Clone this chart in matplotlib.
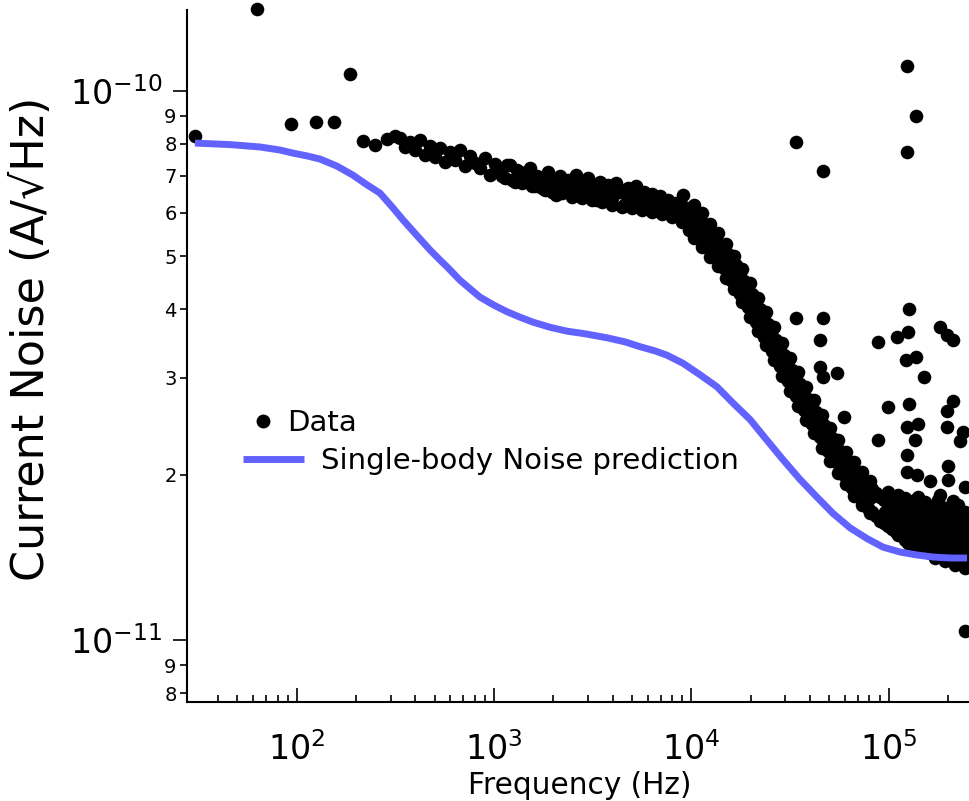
import numpy as np
import matplotlib
matplotlib.use("Agg")
import matplotlib.pyplot as plt
from matplotlib.ticker import FixedLocator, FixedFormatter, NullFormatter
from matplotlib.lines import Line2D

plt.rcParams['font.family'] = ['DejaVu Sans']
plt.rcParams['mathtext.fontset'] = 'dejavusans'

# ---------------- data (noise values in units of 1e-11 A/sqrt(Hz)) ----------------
low_freq = [30.5, 62.9, 93.6, 125.3, 154.6, 186.3, 216.8, 249.4, 287, 315]
low_noise = [8.27, 14.08, 8.70, 8.77, 8.77, 10.72, 8.10, 7.96, 8.17, 8.27]

plateau_freq = [334, 354, 375, 398, 422, 447, 474, 502, 532, 564, 598, 634, 672, 713, 756,
                801, 849, 900, 954, 1011, 1073, 1137, 1205, 1277, 1355, 1436, 1522, 1613,
                1710, 1813, 1870, 1965, 2060, 2160, 2265, 2375, 2490, 2610, 2728, 2860,
                3000, 3140, 3290, 3446, 3610, 3785, 3965, 4155, 4352, 4560, 4780, 5005,
                5245, 5497, 5760, 6035, 6325, 6625, 6943, 7275, 7620, 7985, 8370, 8768,
                9080, 9190, 9630, 9855]
plateau_noise = [8.20, 7.90, 8.07, 7.80, 8.13, 7.64, 7.93, 7.57, 7.87, 7.42, 7.74, 7.48, 7.80,
                 7.29, 7.61, 7.39, 7.23, 7.54, 7.02, 7.35, 7.17, 6.94, 7.32, 6.82, 7.11, 6.99,
                 7.23, 6.71, 6.94, 6.60, 7.11, 6.82, 6.46, 6.99, 6.65, 6.88, 6.54, 7.02, 6.74,
                 6.46, 6.94, 6.65, 6.32, 6.82, 6.54, 6.74, 6.38, 6.79, 6.54, 6.19, 6.65, 6.43,
                 6.71, 6.32, 6.54, 6.17, 6.49, 6.27, 6.43, 6.12, 6.32, 6.07, 6.25, 5.96, 6.46,
                 6.14, 5.82, 6.01]
plateau2_freq = [1098, 1164, 1233, 1308, 1387, 1470, 1558, 1651, 1750, 1856, 1967, 2086, 2211,
                 2345, 2485, 2634, 2792, 2961, 3138, 3328, 3527, 3740, 3964, 4202, 4455, 4723,
                 5006, 5308, 5627, 5966, 6324, 6704, 7107, 7534, 7986, 8467, 8975, 9404, 9740,
                 10447]
plateau2_noise = [6.99, 7.32, 6.88, 7.17, 6.79, 7.05, 6.71, 6.99, 6.65, 6.91, 6.54, 6.82, 6.51,
                  6.76, 6.41, 6.71, 6.38, 6.60, 6.32, 6.65, 6.27, 6.51, 6.19, 6.60, 6.14, 6.43,
                  6.12, 6.35, 6.07, 6.30, 6.01, 6.25, 5.96, 6.17, 5.89, 6.07, 5.77, 5.94, 5.58,
                  5.44]

rolloff_freq = [10080, 10562, 11067, 11596, 12150, 12731, 13339, 13977, 14645, 15345, 16079,
                16847, 17653, 18496, 19380, 20307, 21277, 22294, 23360, 24476, 25646, 26872,
                28156, 29502, 30912, 32389, 33938, 35560, 37259, 39040, 40906, 42861, 44910,
                47056, 49305, 51662, 54131, 56718, 59429, 62269, 65245, 68364, 71631, 75055,
                78642, 82401, 86339, 90466, 94790, 99320, 104067, 109041, 114253]
rolloff_upper = [6.04, 5.86, 5.84, 5.67, 5.62, 5.44, 5.42, 5.24, 5.15, 5.04, 4.92, 4.82, 4.66,
                 4.50, 4.41, 4.27, 4.16, 4.01, 3.91, 3.76, 3.67, 3.52, 3.43, 3.30, 3.22, 3.10,
                 3.02, 2.93, 2.85, 2.75, 2.69, 2.60, 2.53, 2.46, 2.38, 2.33, 2.27, 2.21, 2.16,
                 2.11, 2.07, 2.02, 1.97, 1.95, 1.91, 1.88, 1.85, 1.82, 1.80, 1.78, 1.76, 1.74,
                 1.73]
rolloff_lower = [5.62, 5.46, 5.44, 5.33, 5.17, 5.13, 4.98, 4.92, 4.76, 4.68, 4.50, 4.41, 4.27,
                 4.16, 4.04, 3.91, 3.79, 3.70, 3.56, 3.49, 3.36, 3.28, 3.15, 3.06, 2.96, 2.86,
                 2.78, 2.71, 2.62, 2.56, 2.47, 2.41, 2.34, 2.27, 2.21, 2.15, 2.11, 2.04, 2.00,
                 1.95, 1.89, 1.86, 1.82, 1.78, 1.74, 1.71, 1.68, 1.65, 1.63, 1.61, 1.59, 1.57,
                 1.55]
rolloff_mid_freq = [10318, 11328, 12446, 13654, 14991, 16458, 18070, 19837, 21779, 23911,
                    26251, 28820, 31641, 34739, 38138, 41871, 45970, 50469, 55408, 60831,
                    66785, 73321, 80498]
rolloff_mid_noise = [5.77, 5.56, 5.34, 5.12, 4.89, 4.66, 4.40, 4.15, 3.91, 3.68, 3.45, 3.23,
                     3.04, 2.86, 2.70, 2.54, 2.40, 2.27, 2.15, 2.05, 1.96, 1.88, 1.81]
rolloff_top_noise = [6.19, 5.98, 5.73, 5.50, 5.25, 5.00, 4.73, 4.46, 4.20, 3.95, 3.71, 3.47,
                     3.26, 3.07, 2.89, 2.73, 2.57, 2.43, 2.31, 2.20, 2.11, 2.02, 1.95]
rolloff_bottom_noise = [5.39, 5.20, 4.99, 4.79, 4.57, 4.36, 4.12, 3.88, 3.66, 3.45, 3.23, 3.02,
                        2.84, 2.67, 2.52, 2.38, 2.24, 2.12, 2.01, 1.92, 1.83, 1.76, 1.70]

floor_freq = [95900, 95900, 107780, 107780, 107780, 114253,
              121120, 121120, 121120, 121120,
              128400, 128400, 128400, 128400,
              136120, 136120, 136120, 136120,
              144300, 144300, 144300, 144300,
              152980, 152980, 152980, 152980,
              162170, 162170, 162170, 162170,
              171920, 171920, 171920, 171920, 171920,
              182250, 182250, 182250, 182250,
              193200, 193200, 193200, 193200, 193200,
              204810, 204810, 204810, 204810,
              217120, 217120, 217120, 217120, 217120,
              230170, 230170, 230170, 230170,
              244000, 244000, 244000, 244000, 244000,
              98740, 98740,
              110970, 110970, 110970,
              124700, 124700, 124700, 124700,
              140150, 140150, 140150, 140150, 140150,
              157510, 157510, 157510, 157510,
              177010, 177010, 177010, 177010, 177010,
              198920, 198920, 198920, 198920,
              223550, 223550, 223550, 223550, 223550,
              250000, 250000, 250000, 250000]
floor_noise = [1.81, 1.71, 1.80, 1.69, 1.60, 1.62,
               1.81, 1.71, 1.61, 1.52,
               1.76, 1.67, 1.57, 1.49,
               1.80, 1.69, 1.59, 1.48,
               1.725, 1.64, 1.55, 1.46,
               1.78, 1.67, 1.57, 1.48,
               1.71, 1.61, 1.52, 1.44,
               1.76, 1.65, 1.55, 1.45, 1.41,
               1.69, 1.59, 1.49, 1.42,
               1.74, 1.64, 1.53, 1.45, 1.39,
               1.67, 1.57, 1.48, 1.40,
               1.725, 1.61, 1.52, 1.43, 1.37,
               1.65, 1.555, 1.46, 1.38,
               1.71, 1.60, 1.50, 1.41, 1.35,
               1.86, 1.67,
               1.84, 1.65, 1.555,
               1.76, 1.66, 1.57, 1.50,
               1.82, 1.72, 1.62, 1.52, 1.48,
               1.725, 1.64, 1.53, 1.455,
               1.80, 1.70, 1.60, 1.50, 1.43,
               1.69, 1.59, 1.49, 1.405,
               1.76, 1.65, 1.565, 1.48, 1.38,
               1.65, 1.555, 1.46, 1.37]

outlier_freq = [33938, 46500, 123960, 137650, 123960, 33938, 46500, 44910, 44910, 46500,
                54770, 59430, 88370, 110300, 125400, 126900, 182250, 212000, 197700, 121900,
                137650, 151100, 99320, 126900, 212000, 197700, 88370, 123960, 140900, 136120,
                197700, 238400, 230170, 123960, 200000, 123960, 139300, 162170, 200000,
                244000, 182250, 212000, 244000]
outlier_noise = [8.06, 7.14, 11.09, 8.99, 7.73, 3.86, 3.86, 3.52, 3.14, 3.01,
                 3.06, 2.55, 3.49, 3.56, 3.64, 4.01, 3.71, 3.52, 3.59, 3.23,
                 3.28, 3.01, 2.66, 2.69, 2.72, 2.61, 2.31, 2.44, 2.47, 2.31,
                 2.44, 2.39, 2.30, 2.17, 2.07, 2.02, 2.00, 1.948, 1.956,
                 1.90, 1.84, 1.79, 1.04]

pred_freq = [30.5, 45.9, 65.2, 82.3, 95.8, 112.8, 131.3, 160.1, 192.9, 224.5, 264.4, 304,
             345.7, 407, 474, 532, 578, 672, 756, 849, 1000, 1164, 1355, 1577, 1922, 2344,
             2892, 3738, 4613, 5497, 6546, 7530, 9080, 11075, 13500, 16280, 19853, 24190,
             29150, 35590, 43360, 52270, 63802, 77720, 93660, 114250, 139200, 167700,
             204810, 250000]
pred_noise = [8.03, 7.98, 7.90, 7.80, 7.70, 7.61, 7.51, 7.29, 7.02, 6.76, 6.51, 6.15, 5.82,
              5.45, 5.13, 4.92, 4.78, 4.52, 4.36, 4.21, 4.07, 3.96, 3.87, 3.79, 3.71, 3.65,
              3.61, 3.55, 3.49, 3.42, 3.36, 3.30, 3.19, 3.04, 2.89, 2.70, 2.52, 2.31, 2.13,
              1.96, 1.82, 1.70, 1.60, 1.53, 1.476, 1.446, 1.428, 1.416, 1.41, 1.41]

UNIT = 1e-11

x_major = [1e2, 1e3, 1e4, 1e5]
x_major_labels = ['$10^{2}$', '$10^{3}$', '$10^{4}$', '$10^{5}$']
x_minor = [40, 50, 60, 70, 80, 90,
           200, 300, 400, 500, 600, 700, 800, 900,
           2000, 3000, 4000, 5000, 6000, 7000, 8000, 9000,
           20000, 30000, 40000, 50000, 60000, 70000, 80000, 90000,
           200000]
y_major = [1e-11, 1e-10]
y_major_labels = ['$10^{-11}$', '$10^{-10}$']
y_minor = [8e-12, 9e-12, 2e-11, 3e-11, 4e-11, 5e-11, 6e-11, 7e-11, 8e-11, 9e-11]
y_minor_labels = ['8', '9', '2', '3', '4', '5', '6', '7', '8', '9']

# ---------------- figure ----------------
W, H = 969, 801
fig = plt.figure(figsize=(W / 100, H / 100), dpi=100)
ax = fig.add_axes([187 / W, 1 - 702 / H, (W - 187) / W, (702 - 10) / H])

data_freq = np.concatenate([low_freq, plateau_freq, plateau2_freq, rolloff_freq, rolloff_freq,
                            rolloff_mid_freq, rolloff_mid_freq, rolloff_mid_freq,
                            floor_freq, outlier_freq])
data_noise = np.concatenate([low_noise, plateau_noise, plateau2_noise, rolloff_upper,
                             rolloff_lower, rolloff_mid_noise, rolloff_top_noise,
                             rolloff_bottom_noise, floor_noise, outlier_noise]) * UNIT

ax.plot(data_freq, data_noise, ls='none', marker='o', ms=9.8, mfc='black', mec='none',
        clip_on=False, zorder=2)
blue = '#6262ff'
ax.plot(pred_freq, np.array(pred_noise) * UNIT, color=blue, lw=5, solid_capstyle='butt',
        solid_joinstyle='round', zorder=3)

ax.set_xscale('log')
ax.set_yscale('log')
ax.set_xlim(27.8, 255600)
ax.set_ylim(7.71e-12, 1.403e-10)

for s in ['top', 'right']:
    ax.spines[s].set_visible(False)
for s in ['left', 'bottom']:
    ax.spines[s].set_linewidth(1.5)

ax.xaxis.set_major_locator(FixedLocator(x_major))
ax.xaxis.set_major_formatter(FixedFormatter(x_major_labels))
ax.xaxis.set_minor_locator(FixedLocator(x_minor))
ax.xaxis.set_minor_formatter(NullFormatter())
ax.yaxis.set_major_locator(FixedLocator(y_major))
ax.yaxis.set_major_formatter(FixedFormatter(y_major_labels))
ax.yaxis.set_minor_locator(FixedLocator(y_minor))
ax.yaxis.set_minor_formatter(FixedFormatter(y_minor_labels))

ax.tick_params(axis='x', which='major', direction='in', length=10, width=1.2, labelsize=24, pad=22)
ax.tick_params(axis='x', which='minor', direction='in', length=5, width=1.2)
ax.tick_params(axis='y', which='major', direction='out', length=10, width=1.2, labelsize=24, pad=8)
ax.tick_params(axis='y', which='minor', direction='out', length=5, width=1.2, labelsize=14, pad=2.5)

ax.set_xlabel('Frequency (Hz)', fontsize=21.3, va='center')
ax.xaxis.set_label_coords((580 - 187) / (W - 187), (702 - 786) / (702 - 10))
ax.set_ylabel('Current Noise (A/\u221aHz)', fontsize=32, va='center')
ax.yaxis.set_label_coords((32 - 187) / (W - 187), (702 - 339) / (702 - 10))

# legends
h_data = Line2D([], [], ls='none', marker='o', ms=10, mfc='black', mec='none')
leg1 = ax.legend([h_data], ['Data'], loc='center left',
                 bbox_to_anchor=(250 / W, 1 - 423 / H), bbox_transform=fig.transFigure,
                 frameon=False, borderpad=0, borderaxespad=0, handlelength=0.9,
                 handletextpad=0.38, fontsize=21, numpoints=1)
ax.add_artist(leg1)
h_pred = Line2D([], [], color=blue, lw=5, solid_capstyle='butt')
ax.legend([h_pred], ['Single-body Noise prediction'], loc='center left',
          bbox_to_anchor=(243 / W, 1 - 461 / H), bbox_transform=fig.transFigure,
          frameon=False, borderpad=0, borderaxespad=0, handlelength=2.08,
          handletextpad=0.61, fontsize=21)

fig.savefig('out.png', dpi=100)
